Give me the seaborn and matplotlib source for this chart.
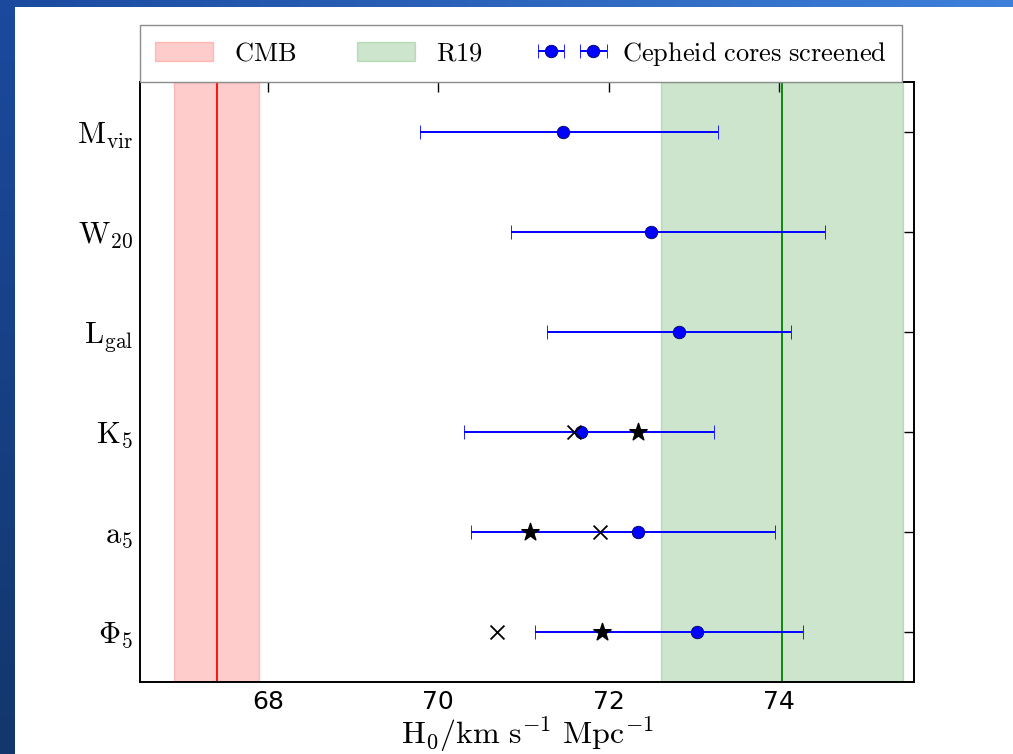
import numpy as np
import pandas as pd
import matplotlib
matplotlib.use('Agg')
import matplotlib.pyplot as plt
import seaborn as sns

# H0 estimates per galaxy property (Cepheid cores screened), asymmetric errors
properties = ['$\\mathrm{M_{vir}}$', '$\\mathrm{W_{20}}$', '$\\mathrm{L_{gal}}$',
              '$\\mathrm{K_5}$', '$\\mathrm{a_5}$', '$\\Phi_5$']
h0_screened = [71.46, 72.49, 72.82, 71.67, 72.34, 73.03]
err_low = [1.67, 1.64, 1.54, 1.37, 1.96, 1.89]
err_high = [1.82, 2.05, 1.32, 1.57, 1.61, 1.25]

# extra markers (no error bars)
cross_props = ['$\\mathrm{K_5}$', '$\\mathrm{a_5}$', '$\\Phi_5$']
cross_h0 = [71.59, 71.90, 70.69]
star_props = ['$\\mathrm{K_5}$', '$\\mathrm{a_5}$', '$\\Phi_5$']
star_h0 = [72.34, 71.07, 71.92]

# reference values
cmb_h0, cmb_err = 67.4, 0.5
r19_h0, r19_err = 74.03, 1.42

sns.set_style('white')
plt.rcParams['mathtext.fontset'] = 'cm'
plt.rcParams['font.family'] = ['DejaVu Sans']
plt.rcParams['text.color'] = 'k'

fig = plt.figure(figsize=(10.13, 7.54), dpi=100)

# slide background: blue frame on top and left
bg = fig.add_axes([0, 0, 1, 1], zorder=-10)
H, W = 754, 1013
yy, xx = np.mgrid[0:H, 0:W]
img = np.ones((H, W, 3))
top = np.array([27, 74, 158]) / 255 + (xx / W)[..., None] * (np.array([62, 128, 218]) - np.array([27, 74, 158])) / 255
left = np.array([27, 74, 158]) / 255 + (yy / H)[..., None] * (np.array([19, 54, 108]) - np.array([27, 74, 158])) / 255
img = np.where((yy < 7)[..., None], top, img)
img = np.where((xx < 15)[..., None], left, img)
bg.imshow(img, aspect='auto', interpolation='nearest')
bg.axis('off')

ax = fig.add_axes([0.1382, 0.0955, 0.764, 0.7957])
ypos = {p: i for i, p in enumerate(properties[::-1])}

ax.axvspan(cmb_h0 - cmb_err, cmb_h0 + cmb_err, color='r', alpha=0.2, label='$\\mathrm{CMB}$')
ax.axvline(cmb_h0, color='r', lw=1.3)
ax.axvspan(r19_h0 - r19_err, r19_h0 + r19_err, color='g', alpha=0.2, label='$\\mathrm{R19}$')
ax.axvline(r19_h0, color='g', lw=1.3)

y_main = [ypos[p] for p in properties]
ax.errorbar(h0_screened, y_main, xerr=[err_low, err_high], fmt='o', color='b',
            ms=9, mec='#000060', mew=0.6, elinewidth=1.4, capsize=5, capthick=1.2,
            label='$\\mathrm{Cepheid\\ cores\\ screened}$', zorder=3)

df_x = pd.DataFrame({'h0': cross_h0, 'y': [ypos[p] for p in cross_props]})
df_s = pd.DataFrame({'h0': star_h0, 'y': [ypos[p] for p in star_props]})
sns.scatterplot(data=df_x, x='h0', y='y', marker='x', color='k', s=100, linewidth=1.3, ax=ax, zorder=4)
sns.scatterplot(data=df_s, x='h0', y='y', marker='*', color='k', s=170, edgecolor='k', ax=ax, zorder=4)

ax.set_xlim(66.5, 75.58)
ax.set_ylim(-0.5, 5.5)
ax.set_xticks([68, 70, 72, 74])
ax.set_yticks(range(len(properties)))
ax.set_yticklabels(properties[::-1], fontsize=22)
ax.tick_params(direction='in', top=True, right=True, length=7, width=1, colors='k')
ax.tick_params(axis='x', labelsize=18, pad=6)
ax.tick_params(axis='y', pad=5)
ax.set_xlabel('')
ax.set_ylabel('')
for s in ax.spines.values():
    s.set_color('k')
    s.set_linewidth(1.4)

ax.text(0.5, -0.12, '$\\mathrm{H_0/km\\ s^{-1}\\ Mpc^{-1}}$', transform=ax.transAxes,
        ha='center', va='bottom', fontsize=23, color='k')

leg = ax.legend(loc='lower left', bbox_to_anchor=(0, 1.0), borderaxespad=0, ncol=3,
                fontsize=19, numpoints=2, fancybox=False, frameon=True,
                edgecolor='0.55', framealpha=1, handlelength=2.2, columnspacing=2.3,
                borderpad=0.55, labelcolor='k')
leg.get_frame().set_linewidth(1.0)

fig.savefig('out.png', dpi=100)
plt.close(fig)
